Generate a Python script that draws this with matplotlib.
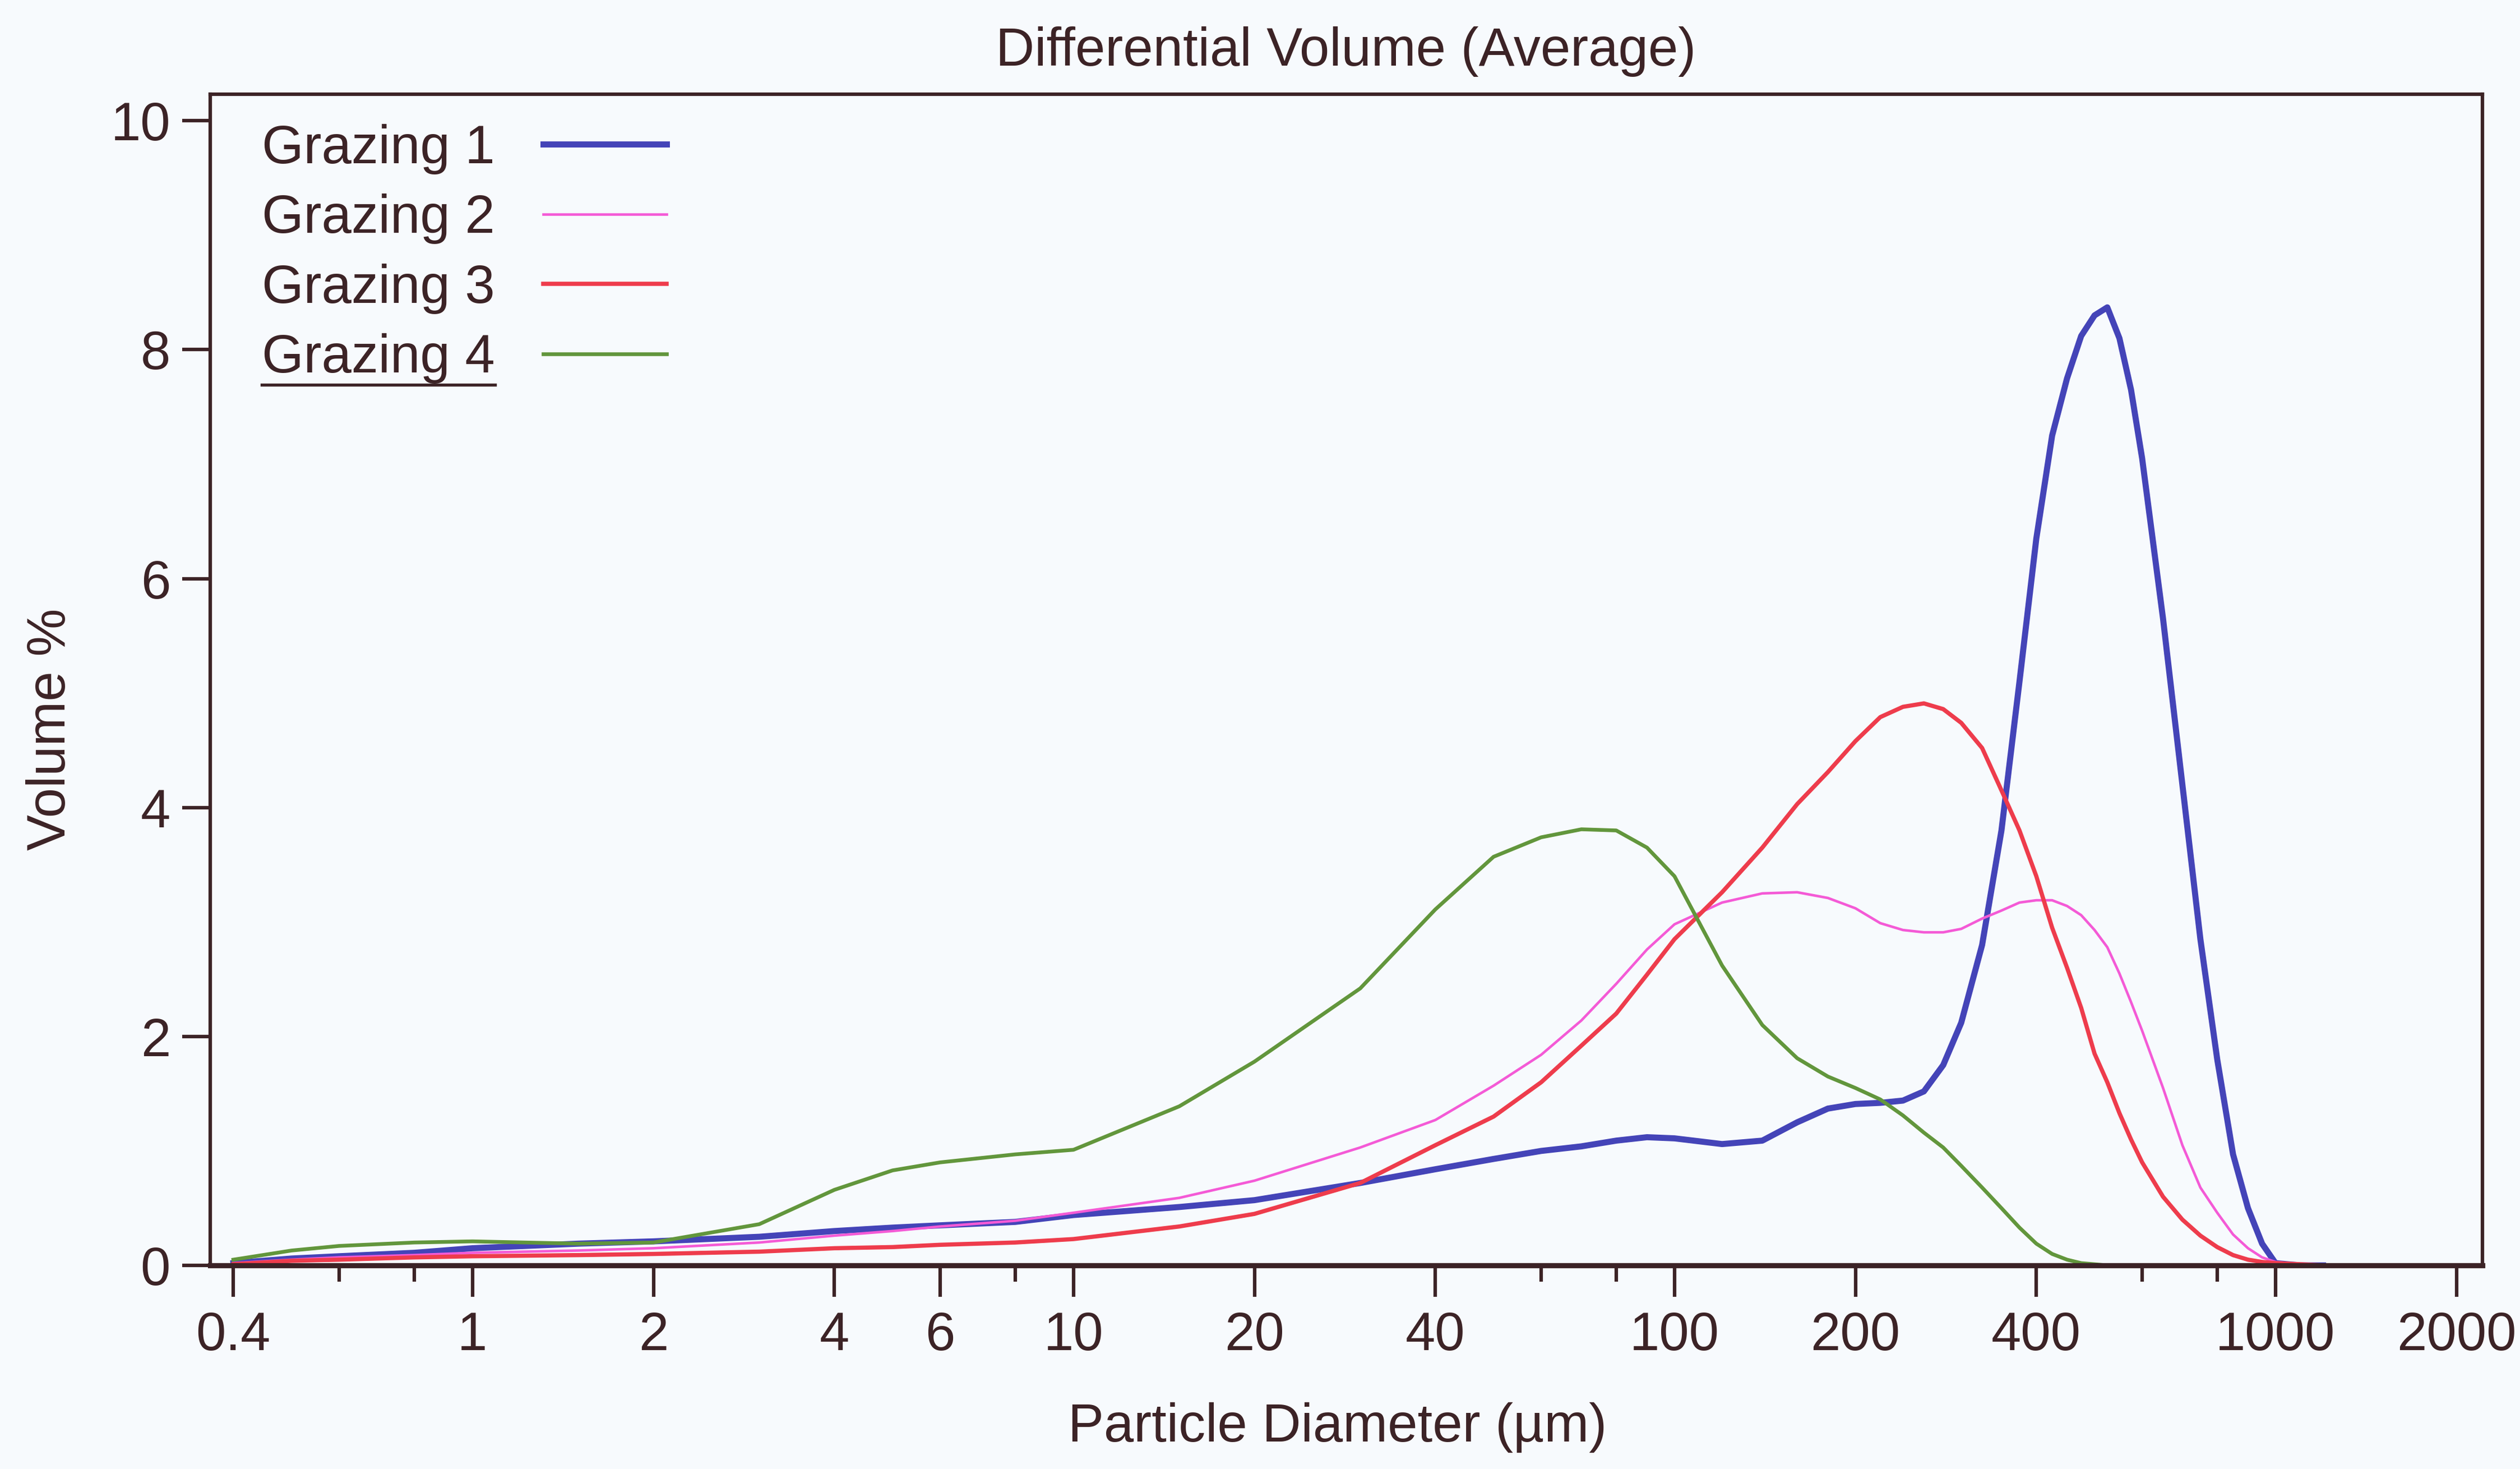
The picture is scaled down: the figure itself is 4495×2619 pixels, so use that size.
import matplotlib
matplotlib.use('Agg')
import matplotlib.pyplot as plt
from matplotlib.lines import Line2D

plt.rcParams['font.family'] = ['Liberation Sans', 'DejaVu Sans']

# particle diameter (um) and differential volume (%)
diameter = [0.4, 0.5, 0.6, 0.8, 1, 1.5, 2, 3, 4, 5,
            6, 8, 10, 15, 20, 30, 40, 50, 60, 70,
            80, 90, 100, 120, 140, 160, 180, 200, 220, 240,
            260, 280, 300, 325, 350, 375, 400, 425, 450, 475,
            500, 525, 550, 575, 600, 650, 700, 750, 800, 850,
            900, 950, 1000, 1100, 1200]

grazing1 = [0.02, 0.06, 0.08, 0.11, 0.15, 0.19, 0.21, 0.25, 0.30, 0.33,
            0.35, 0.38, 0.44, 0.51, 0.57, 0.72, 0.84, 0.93, 1.00, 1.04,
            1.09, 1.12, 1.11, 1.06, 1.09, 1.25, 1.37, 1.41, 1.42, 1.44,
            1.52, 1.75, 2.12, 2.80, 3.80, 5.10, 6.35, 7.25, 7.75, 8.12,
            8.30, 8.37, 8.10, 7.65, 7.05, 5.65, 4.20, 2.85, 1.80, 0.97,
            0.50, 0.19, 0.02, 0.0, 0.0]

grazing2 = [0.02, 0.05, 0.07, 0.09, 0.11, 0.13, 0.15, 0.20, 0.26, 0.30,
            0.34, 0.39, 0.46, 0.59, 0.74, 1.03, 1.27, 1.57, 1.84, 2.14,
            2.46, 2.76, 2.98, 3.17, 3.25, 3.26, 3.21, 3.12, 2.99, 2.93,
            2.91, 2.91, 2.94, 3.03, 3.10, 3.17, 3.19, 3.19, 3.14, 3.06,
            2.93, 2.78, 2.55, 2.30, 2.05, 1.55, 1.05, 0.68, 0.46, 0.27,
            0.15, 0.07, 0.03, 0.01, 0.0]

grazing3 = [0.01, 0.04, 0.05, 0.07, 0.08, 0.09, 0.10, 0.12, 0.15, 0.16,
            0.18, 0.20, 0.23, 0.34, 0.45, 0.72, 1.05, 1.30, 1.60, 1.92,
            2.20, 2.54, 2.85, 3.26, 3.65, 4.03, 4.31, 4.58, 4.79, 4.88,
            4.91, 4.86, 4.74, 4.52, 4.15, 3.80, 3.40, 2.95, 2.60, 2.25,
            1.85, 1.60, 1.33, 1.10, 0.90, 0.60, 0.40, 0.26, 0.16, 0.09,
            0.05, 0.03, 0.02, 0.01, 0.0]

grazing4 = [0.05, 0.13, 0.17, 0.20, 0.21, 0.19, 0.20, 0.36, 0.66, 0.83,
            0.90, 0.97, 1.01, 1.39, 1.78, 2.42, 3.11, 3.57, 3.74, 3.81,
            3.80, 3.65, 3.40, 2.62, 2.10, 1.81, 1.65, 1.55, 1.45, 1.31,
            1.16, 1.03, 0.87, 0.68, 0.50, 0.33, 0.19, 0.10, 0.05, 0.02,
            0.01, 0.0, 0.0, 0.0, 0.0, 0.0, 0.0, 0.0, 0.0, 0.0,
            0.0, 0.0, 0.0, 0.0, 0.0]

series_names = ['Grazing 1', 'Grazing 2', 'Grazing 3', 'Grazing 4']

x_major = [0.4, 1, 2, 4, 6, 10, 20, 40, 100, 200, 400, 1000, 2000]
x_major_labels = ['0.4', '1', '2', '4', '6', '10', '20', '40', '100', '200', '400', '1000', '2000']
x_minor = [0.6, 0.8, 8, 60, 80, 600, 800]
y_ticks = [0, 2, 4, 6, 8, 10]

ink = '#3c2326'
bg = '#f7fafd'
colors = ['#4444b8', '#f45ad6', '#ee3c4c', '#62963c']
widths = [2.6, 1.1, 1.8, 1.6]

fig = plt.figure(figsize=(4495 / 300, 2619 / 300), dpi=300, facecolor=bg)
ax = fig.add_axes([0.0834, 0.1386, 0.9017, 0.7971], facecolor=bg)

for name, vals, c, lw in zip(series_names, [grazing1, grazing2, grazing3, grazing4], colors, widths):
    ax.plot(diameter, vals, color=c, lw=lw, label=name, solid_joinstyle='round')

ax.set_xscale('log')
ax.set_xlim(0.366, 2210)
ax.set_ylim(0, 10.23)

ax.set_xticks(x_major)
ax.set_xticklabels(x_major_labels)
ax.set_xticks(x_minor, minor=True)
ax.set_xticklabels([], minor=True)
ax.set_yticks(y_ticks)
ax.set_yticklabels([str(v) for v in y_ticks])

ax.tick_params(axis='x', which='major', length=13.5, width=1.5, color=ink,
               labelcolor=ink, labelsize=23, pad=6)
ax.tick_params(axis='x', which='minor', length=7, width=1.5, color=ink)
ax.tick_params(axis='y', which='major', length=12, width=1.5, color=ink,
               labelcolor=ink, labelsize=23, pad=5)

for side, sp in ax.spines.items():
    sp.set_color(ink)
    sp.set_linewidth(2.2 if side == 'bottom' else 1.5)

ax.set_xlabel('Particle Diameter (µm)', fontsize=23, color=ink)
ax.xaxis.set_label_coords(0.496, -0.117)
ax.set_ylabel('Volume %', fontsize=23, color=ink)
ax.yaxis.set_label_coords(-0.059, 0.458)

fig.text(0.534, 0.965, 'Differential Volume (Average)', fontsize=23,
         color=ink, ha='center', va='center')

leg = ax.legend(loc='upper left', bbox_to_anchor=(0.0227, 0.975), frameon=False,
                markerfirst=False, fontsize=23, handlelength=2.3,
                handletextpad=0.9, labelspacing=0.36, borderpad=0,
                borderaxespad=0)
for t in leg.get_texts():
    t.set_color(ink)

# the last legend entry is underlined in the original
fig.canvas.draw()
bb = leg.get_texts()[3].get_window_extent(renderer=fig.canvas.get_renderer())
inv = fig.transFigure.inverted()
(x0, y0), (x1, _) = inv.transform([(bb.x0, bb.y0 - 2), (bb.x1, bb.y0)])
fig.add_artist(Line2D([x0, x1], [y0, y0], transform=fig.transFigure,
                      color=ink, lw=1.3))

fig.savefig('out.png', dpi=300, facecolor=bg)
